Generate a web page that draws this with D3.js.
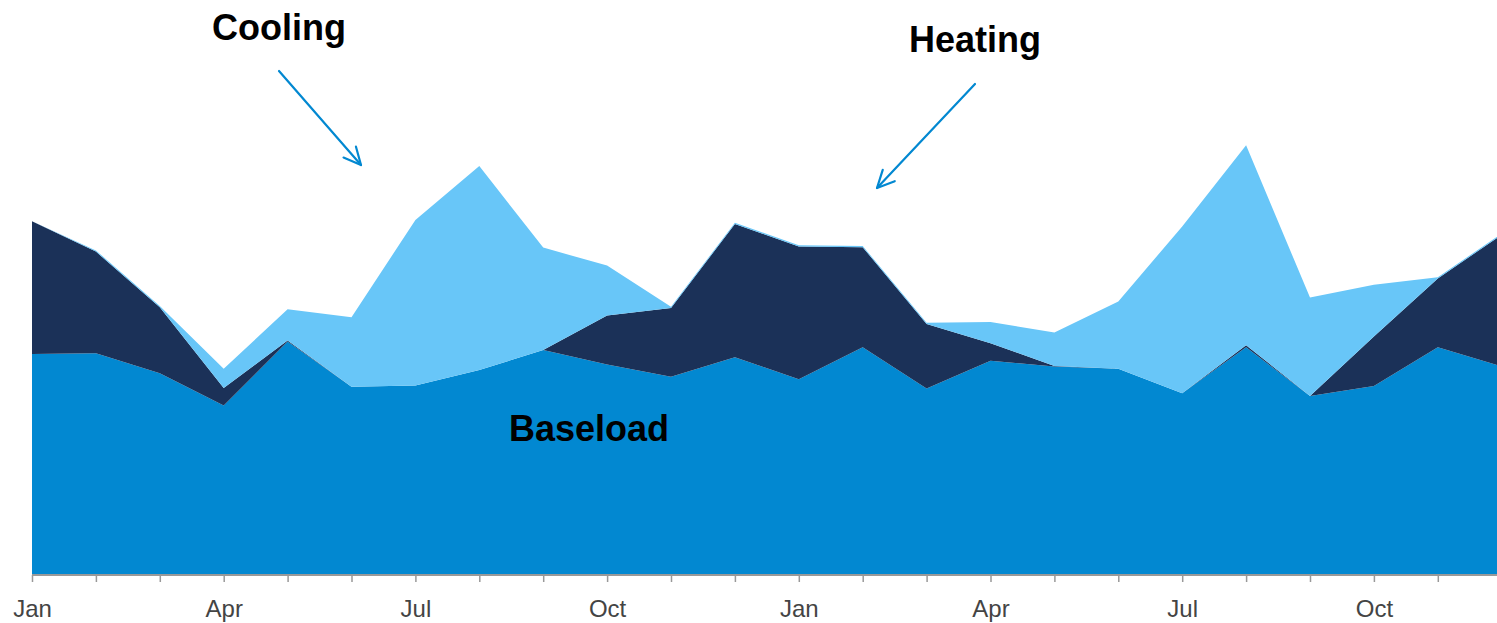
<!DOCTYPE html>
<html>
<head>
<meta charset="utf-8">
<script src="https://cdn.jsdelivr.net/npm/d3@7"></script>
<style>
  html, body { margin: 0; padding: 0; background: #fff; }
  svg { display: block; }
</style>
</head>
<body>
<svg id="chart" width="1497" height="623"></svg>
<script>
// Monthly energy use over two years, split into three stacked components
const months = ["Jan","Feb","Mar","Apr","May","Jun","Jul","Aug","Sep","Oct","Nov","Dec",
                "Jan","Feb","Mar","Apr","May","Jun","Jul","Aug","Sep","Oct","Nov","Dec"];
const labelledMonths = ["Jan","Apr","Jul","Oct"];

const baseload = [55.0, 55.2, 50.2, 42.1, 58.1, 46.8, 47.1, 51.0, 56.0, 52.4, 49.3, 54.2,
                  48.7, 56.7, 46.4, 53.3, 51.9, 51.3, 45.2, 56.7, 44.5, 47.0, 56.7, 51.9];
const heating  = [33.2, 25.4, 16.5, 4.4, 0.3, 0, 0, 0, 0, 12.2, 17.2, 33.3,
                  33.2, 25.0, 16.1, 4.4, 0.1, 0, 0, 0.5, 0, 12.4, 17.2, 32.9];
const cooling  = [0, 0.3, 0.3, 4.8, 7.8, 17.4, 41.4, 51.0, 25.6, 12.5, 0.3, 0.3,
                  0.3, 0.3, 0.3, 5.3, 8.4, 16.8, 41.7, 50.0, 24.6, 12.9, 0.3, 0.3];

const seriesKeys = ["baseload", "heating", "cooling"];
const colors = { baseload: "#0288d1", heating: "#1b3158", cooling: "#68c6f8" };

const rows = months.map((m, i) => ({
  index: i,
  baseload: baseload[i],
  heating: heating[i],
  cooling: cooling[i]
}));

const svg = d3.select("#chart");
const axisY = 575;

const x = d3.scaleLinear().domain([0, months.length - 1]).range([32, 32 + 23 * 63.9]);
const y = d3.scaleLinear().domain([0, 140]).range([574, 14]);

const stacked = d3.stack().keys(seriesKeys)(rows);

const area = d3.area()
  .x(d => x(d.data.index))
  .y0(d => y(d[0]))
  .y1(d => y(d[1]))
  .curve(d3.curveLinear);

svg.append("g")
  .selectAll("path")
  .data(stacked)
  .join("path")
  .attr("fill", d => colors[d.key])
  .attr("d", area);

// Month axis: a tick for every month, names only at quarter starts
const xAxis = d3.axisBottom(x)
  .tickValues(d3.range(months.length))
  .tickSize(7)
  .tickSizeOuter(0)
  .tickFormat(i => labelledMonths.includes(months[i]) ? months[i] : "");

const axisG = svg.append("g")
  .attr("transform", `translate(0,${axisY})`)
  .call(xAxis);

axisG.select(".domain")
  .attr("stroke", "#999")
  .attr("stroke-width", 2)
  .attr("d", `M${x(0)},0H1497`);
axisG.selectAll(".tick line").attr("stroke", "#999").attr("stroke-width", 1.5);
axisG.selectAll(".tick text")
  .attr("fill", "#444")
  .attr("font-family", "Liberation Sans, Arial, sans-serif")
  .attr("font-size", 24)
  .attr("dy", null)
  .attr("y", 42);

// Series annotations
const font = "Liberation Sans, Arial, sans-serif";
const labels = [
  { text: "Cooling",  x: 279,  y: 40 },
  { text: "Heating",  x: 975,  y: 52 },
  { text: "Baseload", x: 589,  y: 441 }
];
svg.append("g")
  .selectAll("text")
  .data(labels)
  .join("text")
  .attr("x", d => d.x)
  .attr("y", d => d.y)
  .attr("text-anchor", "middle")
  .attr("font-family", font)
  .attr("font-weight", "bold")
  .attr("font-size", 36)
  .attr("fill", "#000")
  .text(d => d.text);

// Arrows pointing from the labels into the chart
const arrows = [
  { x1: 279, y1: 71, x2: 361, y2: 165 },
  { x1: 975, y1: 84, x2: 877, y2: 188 }
];
const head = 19, spread = Math.PI / 7;
const arrowG = svg.append("g")
  .attr("fill", "none")
  .attr("stroke", "#0288d1")
  .attr("stroke-width", 2.2)
  .attr("stroke-linecap", "round")
  .attr("stroke-linejoin", "round");
arrows.forEach(a => {
  const ang = Math.atan2(a.y2 - a.y1, a.x2 - a.x1);
  const p1 = [a.x2 - head * Math.cos(ang - spread), a.y2 - head * Math.sin(ang - spread)];
  const p2 = [a.x2 - head * Math.cos(ang + spread), a.y2 - head * Math.sin(ang + spread)];
  arrowG.append("path").attr("d", `M${a.x1},${a.y1}L${a.x2},${a.y2}`);
  arrowG.append("path").attr("d", `M${p1[0]},${p1[1]}L${a.x2},${a.y2}L${p2[0]},${p2[1]}`);
});
</script>
</body>
</html>
